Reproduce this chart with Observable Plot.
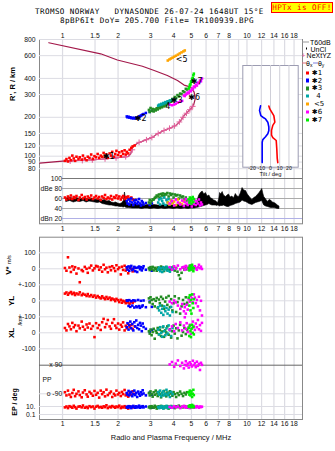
<!DOCTYPE html>
<html>
<head>
<meta charset="utf-8">
<script src="https://cdn.jsdelivr.net/npm/d3@7"></script>
<script src="https://cdn.jsdelivr.net/npm/@observablehq/plot@0.6"></script>
<style>
  html, body { margin: 0; padding: 0; background: #fff; }
  #chart { position: relative; width: 335px; height: 451px; overflow: hidden; background: #fff;
           font-family: "Liberation Sans", Arial, sans-serif; color: #000; }
  #chart svg { position: absolute; left: 0; top: 0; pointer-events: none; }
  .mono { position: absolute; font-family: "DejaVu Sans Mono", monospace; font-size: 7.6px; letter-spacing: 0.4px; line-height: 7px; height: 7px; white-space: pre; }
  .rot { position: absolute; white-space: pre; line-height: 1; transform: translate(-50%, -50%) rotate(-90deg); font-weight: bold; }
  .leg { position: absolute; left: 301.5px; font-size: 7px; line-height: 1; height: 7px; white-space: pre; transform: translateY(-50%); display: flex; align-items: center; }
  .sw { display: inline-block; }
  .sub { font-size: 5px; position: relative; top: 1.5px; }
</style>
</head>
<body>
<div id="chart"></div>
<script>
// ---------- axis ticks ----------
const freqTicksOuter = [1, 1.5, 2, 3, 4, 5, 6, 7, 8, 10, 12, 14, 16, 18];
const freqTicksInner = [1, 1.5, 2, 3, 4, 5, 6, 7, 8, 9, 10, 12, 14, 16, 18];
const heightTicks = [800, 600, 400, 300, 200, 150, 120, 100, 90, 80];
const ampTicks = [100, 80, 60, 40, 20];
const ampTickLabels = ["100", "dBe 80", "60", "40", "dBn 20"];
const tiltTicks = [-20, -10, 0, 10, 20];

// ---------- N(h) profile (MHz, km) ----------
const profileFreq = [0.753, 1.0, 1.498, 1.983, 2.275, 2.342, 2.392, 2.547, 2.765, 3.073, 3.27, 3.552, 3.864, 4.113, 4.38, 4.56, 4.76, 4.96, 5.13,
                     5.24, 5.17, 4.96, 4.56, 4.2, 3.7, 3.14, 2.71, 1.983, 1.609, 0.842];
const profileHeight = [88.2, 91.4, 93.8, 97.2, 99.4, 104.3, 117.8, 126, 132, 140, 149, 158, 166, 173, 189, 206, 219, 233, 247,
                       278, 313, 342, 355, 385, 421, 460, 497, 555, 620, 755];
const nextFreq = [1.07, 1.498, 1.983, 2.275, 2.342, 2.392, 2.547, 2.765, 3.073, 3.27, 3.552, 3.864, 4.113, 4.38, 4.56, 4.76, 4.96, 5.13];
const nextHeight = [91.5, 93.8, 97.2, 99.4, 104.3, 117.8, 126, 132, 140, 149, 158, 166, 173, 189, 206, 219, 233, 247];
const nextMarkFreq = [1.1, 1.28, 1.45, 1.7, 1.95, 2.2, 2.39, 2.6, 2.85, 3.05, 3.3, 3.55, 3.8, 4.05, 4.3, 4.5, 4.7, 4.9, 5.08];
const nextMarkHeight = [91.6, 92.5, 93.5, 95.3, 97, 99, 112, 128, 134, 139.5, 150, 158, 164.5, 171.5, 184, 200, 215, 229, 243];

// ---------- tilt profiles (deg, km) ----------
const tiltXHeight = [244, 232, 216, 206, 183, 173, 158, 145, 139, 132, 114, 96, 89];
const tiltX = [-1.8, -0.8, 1.8, 3.6, 4.7, 2.5, 1.1, 1.1, 2.5, 6.2, 6.8, 7.3, 7.9];
const tiltYHeight = [245, 226, 206, 200, 194, 183, 168, 158, 149, 141, 134, 128, 107, 89];
const tiltY = [-10.8, -11.9, -10.5, -8.3, -5.4, -2.9, -1.8, -1.8, -2.9, -5.4, -8.3, -9.0, -9.0, -9.0];

// ---------- echo groups ----------
const echo1Freq = [1.03,1.05,1.07,1.09,1.11,1.13,1.15,1.17,1.19,1.22, 1.24,1.27,1.29,1.32,1.35,1.37,1.40,1.43,1.46,1.49,
  1.52,1.55,1.58,1.61,1.64,1.67,1.70,1.73,1.76,1.80, 1.83,1.86,1.90,1.93,1.96,2.00,2.03,2.07,2.10,2.13, 2.17,2.20,2.23,2.27,2.31,2.36,2.40,2.46];
const echo1Height = [92,95,91,97,93,101,96,92,99,95, 98,94,101,96,93,99,97,103,95,100,
  98,104,97,101,99,106,100,103,97,105, 101,108,99,104,110,102,107,100,109,104, 111,103,108,105,112,116,119,121];
const echo1Amp = [62,58,64,60,66,59,63,61,65,57, 62,67,60,63,58,64,61,66,59,62,
  65,60,63,57,64,61,67,59,62,60, 65,58,63,61,66,60,64,58,62,65, 59,63,61,64,60,62,58,57];
const echo1Vstar = [5,-12,72,8,-20,15,-5,10,-30,2, -84,-8,-15,12,0,-25,6,20,-10,3,
  18,14,-6,9,-18,25,-3,7,-22,11, -9,16,4,-14,22,-2,8,-35,13,-7, 19,-11,5,-28,10,1,-16,6];
const echo1YL = [45,52,38,48,55,42,50,36,46,40, 53,35,44,38,30,42,28,36,25,33,
  20,30,22,15,28,18,10,24,12,20, 5,14,8,-2,12,4,-8,6,-12,0, -5,-15,2,-10,-18,-6,-12,-3];
const echo1XL = [30,15,55,40,22,62,35,48,10,45, 28,70,38,20,52,33,58,25,42,-27,
  60,30,48,18,66,87,35,55,80,40, 25,62,85,45,30,58,20,50,38,65, 15,44,28,55,35,48,22,40];
const echo1PP = [-80,-100,-70,-95,-110,-85,-65,-105,-90,-75, -98,-112,-82,-68,-94,-108,-78,-88,-102,-72,
  -96,-84,-114,-70,-92,-80,-106,-64,-98,-86, -76,-110,-90,-100,-70,-94,-84,-104,-78,-92, -66,-100,-88,-108,-82,-96,-74,-90];
const echo1EP = [6,10,4,12,8,5,15,7,3,9, 11,6,18,5,8,4,12,7,10,3, 9,14,6,8,5,11,7,20,4,9, 6,13,8,5,10,7,16,4,9,6, 12,5,8,3,10,7,6,9];

const echo2Freq = [2.23,2.25,2.28,2.30,2.33,2.36,2.39,2.42,2.45,2.48,2.51,2.54,2.57,2.60,2.63,2.66,2.69,2.72,2.75,2.83,2.97,3.05];
const echo2Height = [203,200,202,199,200,197,198,196,198,196,199,197,200,202,204,206,208,210,212,216,220,225];
const echo2Amp = [55,50,58,48,54,60,52,47,56,51,57,49,53,59,50,46,55,52,48,51,47,50];
const echo2Vstar = [10,-5,15,-12,5,18,-8,0,12,-15,6,-20,8,14,-3,10,-10,4,16,-6,2,-12];
const echo2YL = [2,0,-32,4,-38,-2,-30,3,-42,1,-35,-40,5,-33,-44,0,-36,-29,2,-40,-5,-38];
const echo2XL = [35,60,20,48,70,28,55,15,66,40,77,30,50,22,62,45,10,58,36,25,5,18];
const echo2PP = [-85,-95,-72,-100,-88,-78,-105,-92,-70,-98,-84,-110,-76,-90,-102,-80,-94,-68,-88,-100,-82,-96];
const echo2EP = [8,5,12,6,10,4,9,14,7,5,11,6,8,16,5,9,7,12,6,10,8,5];

const echo3Freq = [2.94,2.97,3.00,3.04,3.08, 3.12,3.16,3.20,3.24,3.28, 3.33,3.37,3.42,3.46,3.50, 3.55,3.60,3.65,3.70,3.76,
  3.82,3.88,3.94,4.00,4.06, 4.13,4.20,4.27,4.34,4.42, 4.50,4.58,4.66,4.74];
const echo3Height = [228,220,236,224,232, 222,230,226,235,230, 239,235,244,239,248, 243,253,247,258,255,
  267,264,277,273,287, 282,297,290,305,302, 318,313,332,328];
const echo3Amp = [52,57,50,55,58, 58,61,63,66,64, 68,62,69,66,70, 65,69,68,71,64, 70,67,69,62,68, 66,67,60,66,63, 64,58,62,56];
const echo3Vstar = [5,-8,10,-3,12, -10,6,0,-12,8, 3,-6,14,-2,9, -14,4,11,-7,2, -9,7,-4,13,-11, 5,-18,-40,-62,-25, 8,-6,10,-3];
const echo3YL = [15,-10,22,5,-20, 10,-35,0,18,-45, 8,-15,25,-30,12, -50,-5,20,-25,30, -40,10,-60,-15,28, -70,-8,15,-80,-35, 5,-20,22,-12];
const echo3XL = [10,-5,20,-15,5, 25,-37,12,0,30, -10,18,-20,8,35, -25,15,2,40,-12, 22,-30,10,45,-5, 28,-35,15,50,-18, 5,30,-8,20];
const echo3PP = [-85,-100,-75,-92,-108, -80,-96,-70,-88,-104, -78,-94,-112,-84,-98, -72,-90,-106,-82,-96,
  -74,-88,-102,-80,-92, -110,-86,-98,-76,-90, -104,-84,-94,-80];
const echo3EP = [6,10,4,12,7, 5,15,8,3,9, 11,6,14,5,8, 4,10,7,12,3, 9,13,6,8,4, 11,7,16,5,9, 6,12,8,5];

const echo4Freq = [3.30,3.34,3.38,3.43,3.47,3.52,3.56,3.61,3.66,3.71,3.76,3.82,3.88,3.95];
const echo4Height = [246,250,249,254,252,258,256,262,260,266,264,270,269,276];
const echo4Amp = [52,58,48,60,55,50,62,47,57,53,59,49,56,51];
const echo4Vstar = [-5,8,-15,3,-20,10,-8,0,12,-12,5,-18,7,-3];
const echo4YL = [-40,-60,-30,-75,-50,-88,-35,-65,-45,-80,-55,-92,-38,-70];
const echo4XL = [20,-10,35,0,-25,40,10,-15,28,-5,46,15,-20,30];
const echo4PP = [-80,-95,-70,-105,-88,-75,-100,-90,-65,-98,-84,-110,-78,-92];
const echo4EP = [7,4,10,5,12,3,8,6,14,4,9,5,11,6];

const echo5Freq = [3.72,3.80,3.87,3.95,4.03,4.12,4.22,4.32,4.42,4.52,4.60];
const echo5Height = [550,561,570,579,589,599,611,624,636,647,658];
const echo5Amp = [52,48,56,50,54,47,58,51,49,55,53];

const echo6Freq = [3.81,3.92,4.03,4.11,4.22,4.35,4.45, 4.55,4.60,4.66,4.71,4.77,4.83,4.90,4.96,5.02,5.09,5.15,5.22,5.28,5.35,5.42,5.49,5.56,5.63,5.70];
const echo6Height = [251,248,251,255,260,265,268, 295,292,300,304,311,307,322,318,334,330,346,342,358,352,371,366,385,380,399];
const echo6Amp = [50,55,46,58,52,48,56, 45,53,59,50,47,55,51,57,44,52,49,56,47,54,50,58,46,52,48];
const echo6Vstar = [10,-5,15,2,20,-3,8, 12,-6,18,5,0,14,-4,22,7,-2,11,16,3,-6,9,25,4,13,-1];
const echo6YL = [-5,-15,2,-10,-30,-50,-20, -65,-40,-80,-25,-55,10,-5,30,15,-10,40,20,-15,5,-35,25,-60,0,-92];
const echo6XL = [20,40,10,55,30,65,15, 45,97,25,60,5,35,50,-6,28,70,40,18,58,35,80,22,48,12,62];
const echo6PP = [95,110,80,100,120,85,105, 70,92,115,88,100,75,108,96,82,118,90,102,78,112,86,98,60,105,92];
const echo6EP = [8,5,12,6,10,4,9, 14,7,5,11,6,8,4,10,7,13,5,9,6,12,8,5,10,7,9];

const echo7Freq = [4.83,4.87,4.90,4.94,4.97,5.00,5.04,5.08,5.12,5.15];
const echo7Height = [334,342,356,360,376,380,396,402,422,435];
const echo7Amp = [58,52,62,55,60,50,57,63,53,59];
const echo7Vstar = [5,-10,20,0,12,-5,25,8,-15,3];
const echo7YL = [20,-30,35,-60,5,-80,40,-15,-45,10];
const echo7XL = [30,-20,45,10,-27,25,50,0,35,-10];
const echo7PP = [-80,-95,-70,-100,-88,-75,-110,-90,-65,-98];
const echo7EP = [12,8,20,10,15,6,25,9,14,7];

// group labels drawn in the height panel
const groupLabelText = ["✱1", "✱2", "✱3", "4", "<5", "✱6", "✱7"];
const groupLabelFreq = [1.78, 2.65, 4.16, 3.72, 4.42, 5.17, 5.34];
const groupLabelHeight = [100, 196, 272, 243, 560, 286, 381];

// ---------- unclassified amplitude envelope (MHz, dB) ----------
const noiseFreq = [1.05,1.1,1.15,1.2,1.25,1.3,1.35,1.4,1.45,1.5, 1.55,1.6,1.65,1.7,1.75,1.8,1.85,1.9,1.95,2.0,
  2.05,2.1,2.15,2.18,2.2,2.24,2.3,2.4,2.5,2.6, 2.7,2.8,2.9,3.0,3.15,3.3,3.45,3.6,3.8,4.0,
  4.2,4.4,4.6,4.8,5.0,5.2,5.35,5.51,5.62,5.75, 5.87,5.99,6.12,6.25,6.38,6.5,6.64,6.78,6.9,6.98,
  7.08,7.15,7.25,7.38,7.5,7.7,7.85,7.99,8.15,8.33, 8.5,8.7,8.88,9.07,9.25,9.46,9.65,9.88,10.1,10.3,
  10.5,10.7,10.95,11.2,11.45,11.7,11.9,12.1,12.25,12.4, 12.7,13.0,13.25,13.5,13.8,14.1,14.4,14.7,15.0];
const noiseLow = [53,55,52,54,53,55,52,54,53,52, 51,52,49,48,47,46,46,45,44,44,
  43,43,42,43,42,41,41,40,40,40, 39,40,40,39,40,39,40,39,40,39,
  40,39,40,39,40,40,41,42,43,44, 45,46,47,49,47,46,46,46,45,46,
  45,44,45,45,46,44,43,43,45,46, 47,49,50,51,52,56,54,53,51,49,
  48,47,49,51,52,53,54,55,50,46, 44,43,42,41,41,41,40,39,39];
const noiseHigh = [60,62,59,61,58,60,59,58,60,57, 58,57,56,57,54,55,52,51,52,50,
  49,50,55,72,62,52,49,48,49,47, 48,46,47,46,47,46,46,47,46,46,
  47,46,46,47,46,48,52,66,71,74, 68,71,64,66,60,59,56,55,52,51,
  60,71,68,73,66,63,66,68,62,64, 60,69,64,63,70,81,76,75,68,64,
  60,57,61,63,67,71,75,79,70,63, 58,53,57,56,52,51,49,46,44];

// ---------- legend ----------
const legendLabels = ["✱1", "✱2", "✱3", "  4", " <5", "✱6", "✱7"];

// ---------- styles ----------
const groupColors = ["#ff0000", "#0000ff", "#228b22", "#00a6a6", "#ffa500", "#ff00ff", "#00ee00"];
const MAROON = "#a3184a", PINK = "#e2609c", GRID = "#dcdce3", FONT = "Liberation Sans, Arial, sans-serif";
const W = 335, H = 451, ML = 39, MR = 33;
const FREQ = {type: "log", domain: [0.75, 20]};

const groups = [
  {freq: echo1Freq, height: echo1Height, amp: echo1Amp, vstar: echo1Vstar, yl: echo1YL, xl: echo1XL, pp: echo1PP, ep: echo1EP},
  {freq: echo2Freq, height: echo2Height, amp: echo2Amp, vstar: echo2Vstar, yl: echo2YL, xl: echo2XL, pp: echo2PP, ep: echo2EP},
  {freq: echo3Freq, height: echo3Height, amp: echo3Amp, vstar: echo3Vstar, yl: echo3YL, xl: echo3XL, pp: echo3PP, ep: echo3EP},
  {freq: echo4Freq, height: echo4Height, amp: echo4Amp, vstar: echo4Vstar, yl: echo4YL, xl: echo4XL, pp: echo4PP, ep: echo4EP},
  {freq: echo5Freq, height: echo5Height, amp: echo5Amp},
  {freq: echo6Freq, height: echo6Height, amp: echo6Amp, vstar: echo6Vstar, yl: echo6YL, xl: echo6XL, pp: echo6PP, ep: echo6EP},
  {freq: echo7Freq, height: echo7Height, amp: echo7Amp, vstar: echo7Vstar, yl: echo7YL, xl: echo7XL, pp: echo7PP, ep: echo7EP}
].map((g, i) => ({...g, color: groupColors[i]}));

const zip = (xs, ys) => xs.map((x, i) => ({x, y: ys[i]}));

// one square dot mark per echo group for a given parameter
function echoMarks(field) {
  return groups.filter(g => g[field]).map(g =>
    Plot.dot(zip(g.freq, g[field]), {x: "x", y: "y", symbol: "square", r: 1.45, fill: g.color}));
}

const yLabels = (values, labels, opts = {}) => Plot.text(values.map((v, i) => ({v, t: labels[i]})),
  {y: "v", text: "t", frameAnchor: "left", dx: -4, textAnchor: "end", fontSize: 6.8, fontFamily: FONT, fill: "#111", ...opts});
const xLabels = (values, opts) => Plot.text(values,
  {x: d => d, text: d => String(d), fontSize: 6.8, fontFamily: FONT, fill: "#111", ...opts});

const chart = document.getElementById("chart");
function layer(top, bottom, {x = FREQ, y, marks, left = ML, right = MR}) {
  const svg = Plot.plot({
    width: W, height: H,
    marginTop: top, marginBottom: H - bottom, marginLeft: left, marginRight: right,
    x: {...x, axis: null},
    y: {...y, axis: null},
    style: {background: "transparent", overflow: "visible"},
    marks
  });
  chart.appendChild(svg);
}

// ---------- upper frame: grid, frequency labels ----------
layer(39, 223.3, {y: {domain: [0, 1]}, marks: [
  Plot.ruleX(freqTicksInner, {stroke: GRID, strokeWidth: 1.2}),
  Plot.frame({stroke: "#888"}),
  xLabels(freqTicksOuter, {frameAnchor: "top", dy: -6}),
  xLabels(freqTicksInner, {frameAnchor: "bottom", dy: 7})
]});

// ---------- virtual / real height ----------
layer(39, 171, {y: {type: "log", domain: [76.1, 800]}, marks: [
  Plot.ruleY(heightTicks, {stroke: GRID}),
  yLabels(heightTicks, heightTicks.map(String)),
  Plot.line(zip(profileFreq, profileHeight), {x: "x", y: "y", stroke: MAROON, strokeWidth: 1.2}),
  Plot.line(zip(nextFreq, nextHeight), {x: "x", y: "y", stroke: PINK, strokeWidth: 1}),
  Plot.dot(zip(nextMarkFreq, nextMarkHeight), {x: "x", y: "y", symbol: "plus", r: 2, stroke: PINK, strokeWidth: 1}),
  ...echoMarks("height"),
  Plot.text(groupLabelText.map((t, i) => ({t, x: groupLabelFreq[i], y: groupLabelHeight[i]})),
    {x: "x", y: "y", text: "t", fontSize: 8, fontFamily: "DejaVu Sans, sans-serif", fill: "#000"})
]});

// ---------- amplitude ----------
layer(171, 223.3, {y: {domain: [9.4, 114]}, marks: [
  Plot.ruleY([80, 60, 40], {x1: 1, x2: 20, stroke: "#aaa"}),
  Plot.ruleY([100], {x1: 1, x2: 20, stroke: "#777"}),
  Plot.ruleY([20], {x1: 1, x2: 20, stroke: "#b0b0e6"}),
  yLabels(ampTicks, ampTickLabels, {dx: 22.5}),
  Plot.areaY(noiseFreq.map((f, i) => ({f, lo: noiseLow[i], hi: noiseHigh[i]})),
    {x: "f", y1: "lo", y2: "hi", fill: "#000", stroke: "#000", strokeWidth: 0.6}),
  ...echoMarks("amp")
]});

// ---------- tilt inset ----------
layer(65, 166.7, {left: 242.3, right: 37.3, x: {type: "linear", domain: [-30, 30]}, y: {type: "log", domain: [82, 503]}, marks: [
  Plot.frame({fill: "white", stroke: "#9c9cb2"}),
  Plot.ruleX(tiltTicks, {stroke: "#cfcfd8"}),
  Plot.line(zip(tiltX, tiltXHeight), {x: "x", y: "y", stroke: "#ff0000", strokeWidth: 1.6}),
  Plot.line(zip(tiltY, tiltYHeight), {x: "x", y: "y", stroke: "#0000ff", strokeWidth: 1.6}),
  Plot.text(tiltTicks, {x: d => d, text: d => String(d), frameAnchor: "bottom", dy: 3, fontSize: 5.2, fontFamily: FONT, fill: "#111"}),
  Plot.text(["Tilt / deg"], {frameAnchor: "bottom", dy: 9.2, fontSize: 5.8, fontFamily: FONT, fill: "#111"})
]});

// ---------- lower frame ----------
layer(236.7, 419, {y: {domain: [0, 1]}, marks: [
  Plot.ruleX(freqTicksInner, {stroke: GRID, strokeWidth: 1.2}),
  Plot.frame({stroke: "#888"}),
  xLabels(freqTicksOuter, {frameAnchor: "bottom", dy: 6}),
  Plot.text(["Radio and Plasma Frequency / MHz"], {frameAnchor: "bottom", dy: 20.5, fontSize: 7.5, fontFamily: FONT, fill: "#111"})
]});

// V* (m/s)
layer(236.7, 284.3, {y: {domain: [-100, 197.5]}, marks: [
  Plot.ruleY([100, 0, -100], {stroke: GRID}),
  yLabels([100, 0, -100], ["100", "0", "+-100"]),
  ...echoMarks("vstar")
]});
// YL (m/s)
layer(284.3, 316.3, {y: {domain: [-100, 100]}, marks: [
  Plot.ruleY([0, -100], {stroke: GRID}),
  yLabels([0, -100], ["0", "+-100"]),
  ...echoMarks("yl")
]});
// XL (km)
layer(316.3, 364.7, {y: {domain: [-202.5, 100]}, marks: [
  Plot.ruleY([0, -100], {stroke: GRID}),
  yLabels([0, -100], ["0", "-100"]),
  ...echoMarks("xl")
]});
// polarization
layer(364.7, 393.3, {y: {domain: [-90, 90]}, marks: [
  Plot.ruleY([-90], {stroke: GRID}),
  Plot.ruleY([90], {stroke: "#666"}),
  yLabels([90, -90], ["x 90", "o -90"], {dx: 22.7}),
  yLabels([0], ["PP"], {dx: 3, textAnchor: "start"}),
  ...echoMarks("pp")
]});
// EP (deg)
layer(406, 414, {y: {type: "log", domain: [0.1, 10]}, marks: [
  Plot.ruleY([10, 0.1], {stroke: GRID}),
  yLabels([10, 0.1], ["10.", "0.1"]),
  ...echoMarks("ep")
]});

// ---------- titles and side labels ----------
function html(tag, cls, content, css) {
  const el = document.createElement(tag);
  el.className = cls;
  el.innerHTML = content;
  Object.assign(el.style, css);
  chart.appendChild(el);
  return el;
}
html("div", "mono", "TROMSO NORWAY   DYNASONDE 26-07-24 1648UT 15°E", {left: "35px", top: "8.2px"});
html("div", "mono", "8pBP6It DoY= 205.700 File= TR100939.BPG", {left: "60px", top: "17.1px"});
html("div", "mono", "HPTx is OFF!", {left: "271px", top: "1.5px", width: "62px", height: "11px", boxSizing: "border-box",
  background: "#ffff00", border: "1px solid #ff0000", color: "#ff0000", textAlign: "center", lineHeight: "9px", letterSpacing: "0.4px"});

html("div", "rot", "R', R / km", {left: "13px", top: "84px", fontSize: "7.5px"});
html("div", "rot", "V* <span style='font-size:5.5px;font-weight:normal'>m/s</span>", {left: "9px", top: "265px", fontSize: "8px"});
html("div", "rot", "YL", {left: "11.5px", top: "301px", fontSize: "8px"});
html("div", "rot", "/km", {left: "21px", top: "321px", fontSize: "5.5px", fontWeight: "normal"});
html("div", "rot", "XL", {left: "11.5px", top: "333px", fontSize: "8px"});
html("div", "rot", "EP / deg", {left: "14px", top: "402px", fontSize: "7px"});

// ---------- legend ----------
html("div", "leg", "<span class='sw' style='width:7px;height:1px;background:#999;margin-right:1.5px'></span>T60dB", {top: "42.3px"});
html("div", "leg", "<span class='sw' style='width:1.5px;height:1.5px;background:#000;margin:0 3.5px 0 4px'></span>UnCl", {top: "48.7px"});
html("div", "leg", `<span style='color:${PINK};margin-right:1px'>+</span>NeXtYZ`, {top: "55.3px"});
html("div", "leg", "<span class='sw' style='width:4.5px;height:1px;background:#e07080'></span>θ<span class='sub'>x</span>" +
  "<span class='sw' style='width:4.5px;height:1px;background:#8080e0;margin-left:1px'></span>θ<span class='sub'>y</span>", {top: "63.3px"});
legendLabels.forEach((label, i) => {
  html("div", "leg", `<span class='sw' style='width:3.3px;height:3.3px;background:${groupColors[i]};margin:0 2.8px 0 4.2px'></span>` +
    `<span style='font-family:DejaVu Sans, sans-serif'>${label.replace("<", "&lt;")}</span>`, {top: (72.7 + i * 7.88) + "px"});
});
</script>
</body>
</html>
